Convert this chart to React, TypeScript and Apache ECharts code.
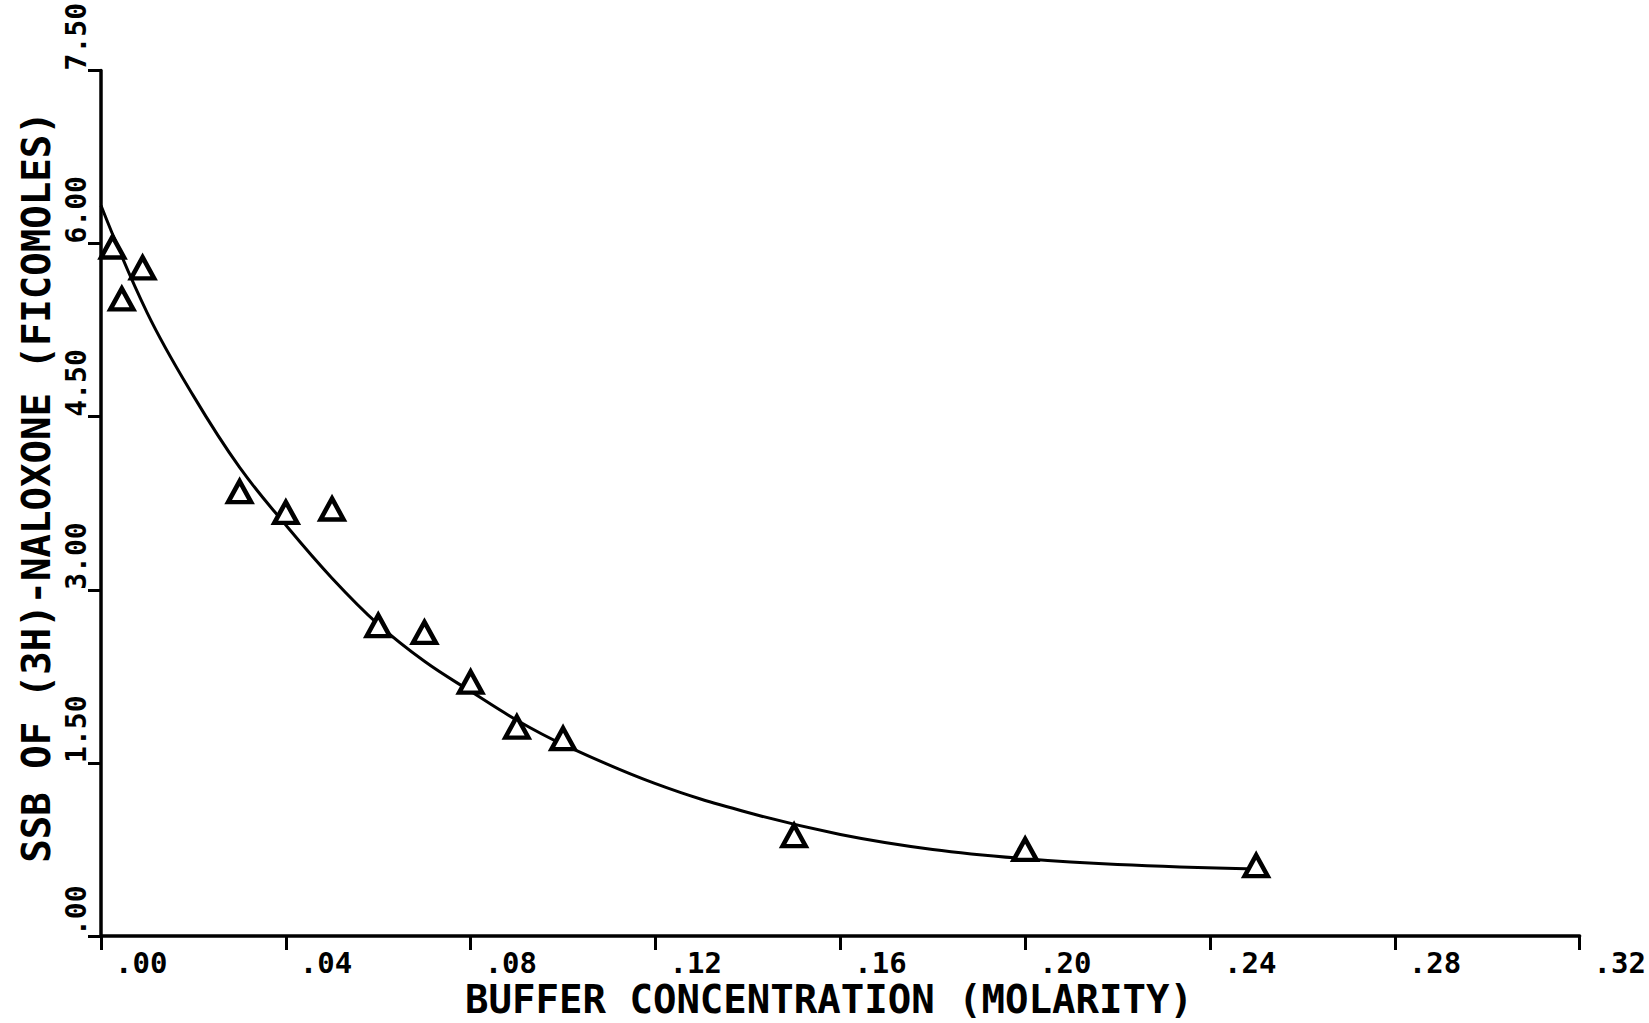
import React, { useEffect, useRef } from "react";
import * as echarts from "echarts";

// Measured binding of (3H)-naloxone against buffer molarity
const concentration = [0.0025, 0.0045, 0.009, 0.03, 0.04, 0.05, 0.06, 0.07, 0.08, 0.09, 0.1, 0.15, 0.2, 0.25];
const bound = [5.97, 5.52, 5.79, 3.85, 3.67, 3.7, 2.69, 2.63, 2.2, 1.81, 1.71, 0.87, 0.75, 0.61];

// Fitted decay curve, sampled along the concentration range
const fitX = [0, 0.01, 0.02, 0.03, 0.04, 0.05, 0.06, 0.07, 0.08, 0.09, 0.1, 0.12, 0.14, 0.16, 0.18, 0.2, 0.22, 0.25];
const fitY = [6.33, 5.4, 4.68, 4.06, 3.56, 3.1, 2.7, 2.38, 2.12, 1.87, 1.66, 1.32, 1.07, 0.88, 0.75, 0.67, 0.62, 0.58];

const X_TITLE = "BUFFER CONCENTRATION (MOLARITY)";
const Y_TITLE = "SSB OF (3H)-NALOXONE (FICOMOLES)";

const FONT = "'DejaVu Sans Mono', 'Liberation Mono', monospace";

// ".04" style labels: two decimals with the leading zero dropped
const fmt = (v: number) => v.toFixed(2).replace(/^0\./, ".");

export default function App() {
  const ref = useRef<HTMLDivElement>(null);

  useEffect(() => {
    if (!ref.current) return;
    const chart = echarts.init(ref.current, null, { renderer: "svg" });
    const ink = "#000";
    chart.setOption({
      animation: false,
      backgroundColor: "#fff",
      grid: { left: 101, right: 67, top: 70, bottom: 87, containLabel: false },
      xAxis: {
        type: "value",
        min: 0,
        max: 0.32,
        interval: 0.04,
        splitLine: { show: false },
        axisLine: { show: true, onZero: false, lineStyle: { color: ink, width: 3.5 } },
        axisTick: { show: true, inside: false, length: 14, lineStyle: { color: ink, width: 3 } },
        axisLabel: {
          formatter: (v: number) => fmt(v),
          fontFamily: FONT,
          fontWeight: "bold",
          fontSize: 29,
          color: ink,
          align: "left",
          verticalAlign: "top",
          padding: [0, 0, 0, 14],
          margin: 12,
          showMinLabel: true,
          showMaxLabel: true,
        },
      },
      yAxis: {
        type: "value",
        min: 0,
        max: 7.5,
        interval: 1.5,
        splitLine: { show: false },
        axisLine: { show: true, onZero: false, lineStyle: { color: ink, width: 3.5 } },
        axisTick: { show: true, inside: false, length: 13, lineStyle: { color: ink, width: 3 } },
        axisLabel: {
          formatter: (v: number) => fmt(v),
          fontFamily: FONT,
          fontWeight: "bold",
          fontSize: 28,
          color: ink,
          rotate: 90,
          align: "left",
          verticalAlign: "bottom",
          margin: 11,
          showMinLabel: true,
          showMaxLabel: true,
        },
      },
      graphic: [
        {
          type: "text",
          x: 829,
          y: 1019,
          style: {
            text: X_TITLE,
            fontFamily: FONT,
            fontWeight: "bold",
            fontSize: 39,
            lineHeight: 39,
            fill: ink,
            align: "center",
            verticalAlign: "bottom",
          },
        },
        {
          type: "text",
          x: 36,
          y: 487,
          rotation: Math.PI / 2,
          style: {
            text: Y_TITLE,
            fontFamily: FONT,
            fontWeight: "bold",
            fontSize: 39,
            fill: ink,
            align: "center",
            verticalAlign: "middle",
          },
        },
      ],
      series: [
        {
          type: "line",
          data: fitX.map((x, i) => [x, fitY[i]]),
          smooth: 0.4,
          showSymbol: false,
          lineStyle: { color: ink, width: 3 },
          z: 2,
        },
        {
          type: "scatter",
          data: concentration.map((x, i) => [x, bound[i]]),
          symbol: "triangle",
          symbolSize: [23, 21],
          itemStyle: { color: "#fff", borderColor: ink, borderWidth: 4.5, opacity: 1 },
          z: 3,
        },
      ],
    });
    return () => chart.dispose();
  }, []);

  return (
    <div
      ref={ref}
      style={{ position: "fixed", left: 0, top: 0, width: 1649, height: 1023, background: "#fff" }}
    />
  );
}
